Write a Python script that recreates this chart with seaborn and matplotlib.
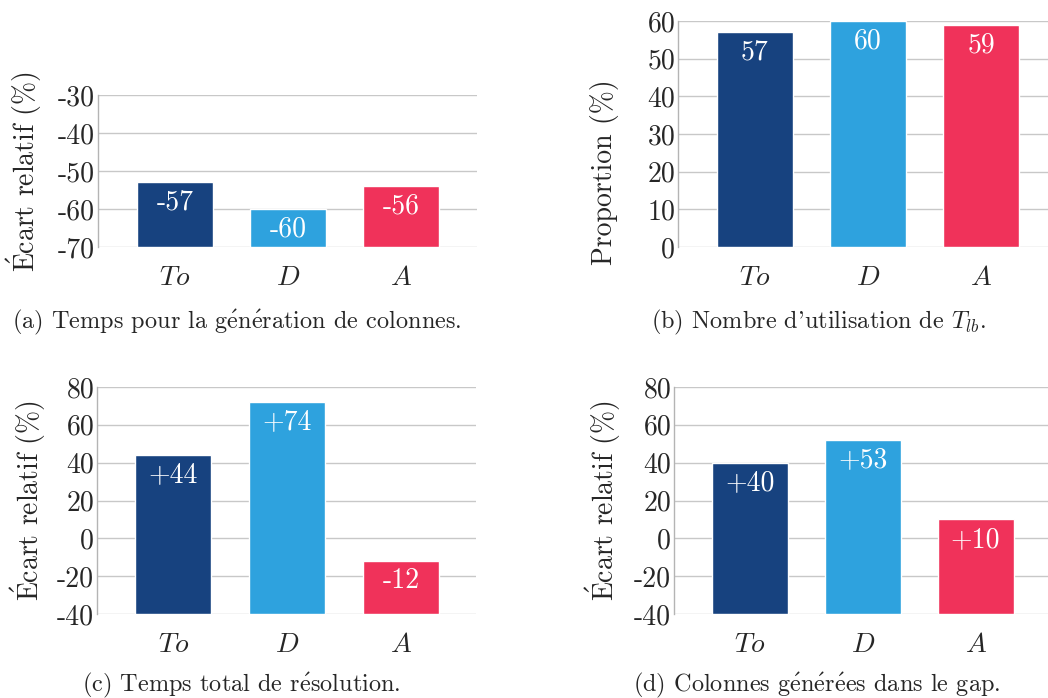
import matplotlib
matplotlib.use("Agg")
import matplotlib.pyplot as plt
import seaborn as sns

# data
methods = ["To", "D", "A"]
method_ticks = ["$To$", "$D$", "$A$"]
colors = ["#17427F", "#2EA2DE", "#F0325A"]

gen_time_bars = [-53, -60, -54]
gen_time_labels = ["-57", "-60", "-56"]
gen_time_yticks = [-70, -60, -50, -40, -30]

tlb_bars = [57, 60, 59]
tlb_labels = ["57", "60", "59"]
tlb_yticks = [0, 10, 20, 30, 40, 50, 60]

total_time_bars = [44, 72, -12]
total_time_labels = ["+44", "+74", "-12"]
total_time_yticks = [-40, -20, 0, 20, 40, 60, 80]

gap_cols_bars = [40, 52, 10]
gap_cols_labels = ["+40", "+53", "+10"]
gap_cols_yticks = [-40, -20, 0, 20, 40, 60, 80]

# accented letters go through mathtext so they stay in Computer Modern
E_ACUTE = r"$\mathrm{\acute{E}}$"
e_acute = r"$\mathrm{\acute{e}}$"
ylabel_rel = E_ACUTE + "cart relatif (%)"
ylabel_prop = "Proportion (%)"
captions = [
    "(a) Temps pour la g" + e_acute + "n" + e_acute + "ration de colonnes.",
    "(b) Nombre d'utilisation de $T_{lb}$.",
    "(c) Temps total de r" + e_acute + "solution.",
    "(d) Colonnes g" + e_acute + "n" + e_acute + "r" + e_acute + "es dans le gap.",
]

sns.set_style("whitegrid", {"grid.color": "#C8C8C8", "axes.edgecolor": "#B4B4B4"})
plt.rcParams["font.family"] = ["cmr10", "DejaVu Serif"]
plt.rcParams["mathtext.fontset"] = "cm"
plt.rcParams["axes.unicode_minus"] = False

fig = plt.figure(figsize=(10.48, 6.98), dpi=100)


def draw_panel(rect, bars, labels, yticks, xlim, ylabel, label_pos):
    ax = fig.add_axes(rect)
    sns.barplot(x=methods, y=bars, hue=methods, palette=colors, legend=False,
                saturation=1, width=0.67, ax=ax, zorder=2)
    ymin, ymax = yticks[0], yticks[-1]
    # bars grow from the bottom of the axis, as in the original
    for patch, val in zip(ax.patches, bars):
        patch.set_y(ymin)
        patch.set_height(val - ymin)
    for patch, val, lab in zip(ax.patches, bars, labels):
        ax.annotate(lab, (patch.get_x() + patch.get_width() / 2, val),
                    xytext=(0, -5), textcoords="offset points",
                    ha="center", va="top", color="white", fontsize=20, zorder=3)
    ax.set_ylim(ymin, ymax)
    ax.set_xlim(*xlim)
    ax.set_yticks(yticks, [str(t) for t in yticks])
    ax.set_xticks([0, 1, 2], method_ticks)
    ax.grid(axis="x", visible=False)
    ax.grid(axis="y", linewidth=1.0)
    for side in ["top", "right", "bottom"]:
        ax.spines[side].set_visible(False)
    ax.spines["left"].set_linewidth(1.0)
    ax.tick_params(axis="y", labelsize=20, pad=2, length=0)
    ax.tick_params(axis="x", labelsize=20, pad=13, length=0)
    ax.set_xlabel("")
    ax.set_ylabel(ylabel, fontsize=20)
    ax.yaxis.set_label_coords(*label_pos)
    return ax


W, H = 1048, 698


def rect(left, top, right, bottom):
    return [left / W, 1 - bottom / H, (right - left) / W, (bottom - top) / H]


draw_panel(rect(98, 95, 477, 247), gen_time_bars, gen_time_labels, gen_time_yticks,
           (-0.68, 2.67), ylabel_rel, (-0.142, 0.5))
draw_panel(rect(678, 21, 1048, 247), tlb_bars, tlb_labels, tlb_yticks,
           (-0.68, 2.59), ylabel_prop, (-0.159, 0.33))
draw_panel(rect(97, 387, 476, 614), total_time_bars, total_time_labels, total_time_yticks,
           (-0.67, 2.66), ylabel_rel, (-0.129, 0.5))
draw_panel(rect(674, 387, 1048, 614), gap_cols_bars, gap_cols_labels, gap_cols_yticks,
           (-0.67, 2.64), ylabel_rel, (-0.136, 0.5))

for (cx, cy), text in zip([(237, 322), (819, 322), (241, 685), (817, 685)], captions):
    fig.text(cx / W, 1 - cy / H, text, ha="center", va="center", fontsize=17.5)

fig.savefig("out.png", dpi=100)
